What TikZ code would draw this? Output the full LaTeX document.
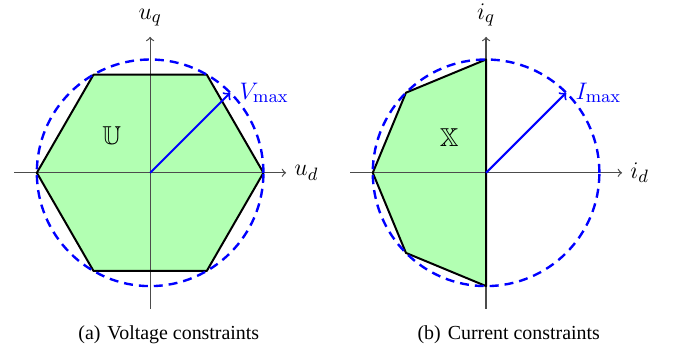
\documentclass[tikz,border=0pt]{standalone}
\usepackage[no-math]{fontspec}
\setmainfont{Liberation Serif}
\usepackage{amssymb}
\usetikzlibrary{positioning}

\begin{document}
\begin{tikzpicture}[
  font=\fontsize{13}{15}\selectfont,
  axline/.style={->, draw=black!70, line width=0.6pt},
  region/.style={fill=green!30},
  edge/.style={draw=black, line width=1pt, line join=round},
  limit/.style={draw=blue, line width=1.2pt, dash pattern=on 4.5pt off 3pt},
  vec/.style={->, draw=blue, line width=1pt},
  lab/.style={inner sep=2pt},
  capt/.style={font=\normalsize, inner sep=0pt}
]
\useasboundingbox (-2.65,-3.2) rectangle (9.3,3.05);

% (a) voltage plane
\coordinate (ov)  at (0,0);
\coordinate (vd0) at (-2.4,0);
\coordinate (vd1) at ( 2.4,0);
\coordinate (vq0) at (0,-2.4);
\coordinate (vq1) at (0, 2.4);
\coordinate (vm)  at (45:2);

\fill[region] (0:2) -- (60:2) -- (120:2) -- (180:2) -- (240:2) -- (300:2) -- cycle;
\draw[axline] (vd0) -- (vd1);
\draw[axline] (vq0) -- (vq1);
\draw[edge] (0:2) -- (60:2) -- (120:2) -- (180:2) -- (240:2) -- (300:2) -- cycle;
\draw[limit] (ov) circle[radius=2];
\draw[vec] (ov) -- (vm);

\node[lab, right=2pt of vd1] (ud) {$u_d$};
\node[lab, above=3pt of vq1] (uq) {$u_q$};
\node[lab, blue, right=2.5pt of vm] (vmax) {$V_{\max}$};
\node (uset) at (-0.68,0.66) {$\mathbb{U}$};
\node[capt] (capa) at (0.33,-2.86) {(a)\hspace{1pt} Voltage constraints};

% (b) current plane
\begin{scope}[shift={(5.93,0)}]
\coordinate (oc)  at (0,0);
\coordinate (cd0) at (-2.4,0);
\coordinate (cd1) at ( 2.4,0);
\coordinate (cq0) at (0,-2.4);
\coordinate (cq1) at (0, 2.4);
\coordinate (cm)  at (45:2);

\fill[region] (90:2) -- (135:2) -- (180:2) -- (225:2) -- (270:2) -- cycle;
\draw[axline] (cd0) -- (cd1);
\draw[axline] (cq0) -- (cq1);
\draw[edge] (90:2) -- (135:2) -- (180:2) -- (225:2) -- (270:2) -- cycle;
\draw[limit] (oc) circle[radius=2];
\draw[vec] (oc) -- (cm);

\node[lab, right=2pt of cd1] (id) {$i_d$};
\node[lab, above=3pt of cq1] (iq) {$i_q$};
\node[lab, blue, right=2.5pt of cm] (imax) {$I_{\max}$};
\node (xset) at (-0.65,0.63) {$\mathbb{X}$};
\node[capt] (capb) at (0.4,-2.86) {(b)\hspace{1pt} Current constraints};
\end{scope}
\end{tikzpicture}
\end{document}
